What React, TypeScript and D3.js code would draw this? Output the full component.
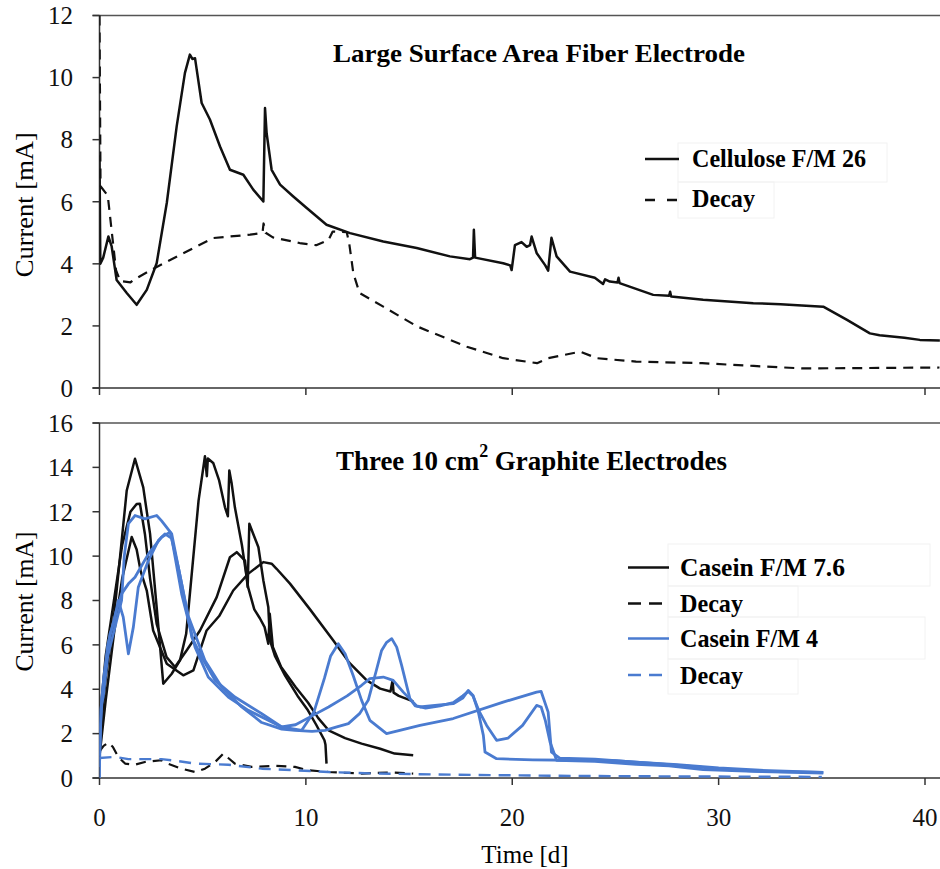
import React from "react";
import * as d3 from "d3";

type Pt = [number, number];

// ---------- Top panel: Large Surface Area Fiber Electrode ----------
const topTicksY = [0, 2, 4, 6, 8, 10, 12];
const xTicks = [0, 10, 20, 30, 40];
const bottomTicksY = [0, 2, 4, 6, 8, 10, 12, 14, 16];

const cellulose: Pt[] = [
  [0, 7.5], [0.04, 4.0], [0.18, 4.2], [0.43, 4.88], [0.59, 4.56], [0.83, 3.48], [1.32, 3.06], [1.8, 2.68],
  [2.29, 3.16], [2.77, 4.02], [3.26, 5.96], [3.74, 8.43], [4.14, 10.15], [4.38, 10.74], [4.5, 10.6],
  [4.63, 10.62], [4.95, 9.18], [5.35, 8.65], [5.84, 7.78], [6.32, 7.03], [6.97, 6.87], [7.45, 6.39],
  [7.94, 6.01], [8.02, 9.02], [8.1, 8.2], [8.34, 7.03], [8.75, 6.55], [9.39, 6.17], [10.04, 5.8],
  [11.0, 5.26], [12.14, 4.99], [13.75, 4.72], [15.37, 4.51], [16.98, 4.24], [17.95, 4.15], [18.1, 4.2],
  [18.14, 5.1], [18.2, 4.2], [19.56, 4.02], [19.9, 3.95], [19.97, 3.8], [20.13, 4.6], [20.45, 4.7],
  [20.7, 4.55], [20.86, 4.6], [20.94, 4.88], [21.18, 4.35], [21.6, 3.95], [21.74, 3.78], [21.9, 4.84],
  [22.15, 4.24], [22.8, 3.75], [24.0, 3.55], [24.4, 3.35], [24.5, 3.5], [24.73, 3.43], [25.1, 3.4],
  [25.15, 3.55], [25.2, 3.38], [26.83, 3.0], [27.6, 2.97], [27.65, 3.1], [27.7, 2.95], [29.25, 2.84],
  [31.68, 2.73], [33.0, 2.7], [35.07, 2.62], [36.2, 2.2], [37.33, 1.76], [37.8, 1.7], [39.0, 1.62],
  [39.75, 1.55], [40.72, 1.53],
];

const celluloseDecay: Pt[] = [
  [0, 12], [0.05, 6.5], [0.4, 6.2], [0.6, 5.0], [0.8, 3.8], [1.0, 3.45], [1.5, 3.4], [1.64, 3.48],
  [2.77, 3.9], [4.7, 4.56], [5.5, 4.83], [7.3, 4.94], [7.9, 5.0], [7.95, 5.3], [8.05, 5.0], [8.4, 4.85],
  [9.7, 4.67], [10.5, 4.6], [11.1, 4.77], [11.3, 5.04], [11.98, 5.02], [12.1, 4.66], [12.3, 3.7],
  [12.6, 3.06], [13.75, 2.62], [15.4, 1.98], [17.8, 1.33], [19.56, 0.96], [21.2, 0.8], [21.74, 0.96],
  [23.3, 1.17], [24.1, 0.96], [26.0, 0.85], [29.2, 0.8], [31.7, 0.71], [34.1, 0.63], [40.7, 0.66],
];

// ---------- Bottom panel: Three 10 cm2 Graphite Electrodes ----------
const caseinHighA: Pt[] = [
  [0, 1.5], [0.3, 4.5], [0.67, 7.0], [1.0, 10.0], [1.32, 12.96], [1.72, 14.39], [2.12, 13.1], [2.45, 11.0],
  [2.77, 7.7], [3.09, 4.25], [3.5, 4.7], [3.9, 5.3], [4.2, 6.5], [4.5, 9.5], [4.8, 12.5], [5.11, 14.5],
  [5.2, 13.6], [5.25, 14.4], [5.51, 14.2], [5.8, 13.4], [6.08, 12.2], [6.22, 11.8], [6.29, 13.86],
  [6.4, 13.3], [6.56, 12.2], [6.9, 10.5], [7.2, 8.6], [7.5, 7.6], [7.77, 7.2], [8.0, 6.8], [8.18, 6.05],
  [8.25, 7.4], [8.4, 5.9], [8.8, 5.0], [9.5, 4.1], [10.1, 3.4], [10.6, 2.7], [11.1, 2.15], [11.9, 1.8],
  [12.7, 1.55], [13.6, 1.32], [14.3, 1.1], [15.2, 1.02],
];

const caseinHighB: Pt[] = [
  [0, 2.5], [0.3, 5.5], [0.7, 8.0], [1.1, 10.5], [1.5, 12.0], [1.8, 12.35], [1.96, 12.36], [2.2, 11.0],
  [2.45, 9.0], [2.77, 6.95], [3.25, 5.45], [3.66, 5.0], [4.22, 5.75], [4.87, 6.65], [5.68, 8.15],
  [6.32, 9.95], [6.65, 10.18], [7.05, 9.8], [7.18, 8.6], [7.26, 11.46], [7.45, 11.0], [7.7, 10.4],
  [7.94, 8.9], [8.18, 7.7], [8.26, 6.2], [8.5, 5.5], [9.0, 4.6], [9.6, 3.7], [10.1, 3.05], [10.5, 2.4],
  [10.9, 1.7], [10.95, 1.5], [11.0, 0.65],
];

const caseinHighC: Pt[] = [
  [0, 1.0], [0.3, 3.5], [0.7, 6.5], [1.1, 9.0], [1.56, 10.86], [1.8, 10.3], [2.0, 9.3], [2.29, 8.45],
  [2.6, 6.65], [3.26, 5.15], [4.06, 4.63], [4.55, 4.85], [5.19, 6.65], [5.8, 7.3], [6.48, 8.45],
  [7.2, 9.2], [7.94, 9.73], [8.34, 9.66], [8.58, 9.43], [9.23, 8.76], [10.2, 7.6], [11.33, 6.2],
  [12.1, 5.2], [12.95, 4.4], [13.6, 4.03], [14.1, 3.9], [14.2, 4.4], [14.25, 3.85], [14.5, 3.7], [15.2, 3.45],
];

const caseinHighDecay: Pt[] = [
  [0, 1.2], [0.2, 1.45], [0.43, 1.6], [0.65, 1.4], [0.91, 0.95], [1.24, 0.65], [1.72, 0.6], [2.2, 0.72],
  [3.0, 0.8], [3.3, 0.65], [3.98, 0.42], [4.63, 0.27], [5.11, 0.42], [5.6, 0.72], [6.0, 1.1], [6.24, 0.9],
  [6.56, 0.65], [7.37, 0.5], [8.5, 0.55], [9.47, 0.5], [10.1, 0.35], [11.09, 0.27], [12.7, 0.2],
  [14.07, 0.25], [15.2, 0.2],
];

const caseinLowA: Pt[] = [
  [0, 0], [0.02, 3.0], [0.18, 3.65], [0.4, 5.5], [0.75, 6.8], [1.07, 8.0], [1.2, 10.0], [1.4, 11.46],
  [1.72, 11.83], [2.2, 11.68], [2.77, 11.83], [3.0, 11.6], [3.5, 11.0], [3.98, 8.75], [4.47, 6.35],
  [4.95, 5.45], [5.6, 4.4], [6.56, 3.65], [7.86, 2.9], [8.83, 2.3], [9.5, 2.4], [10.3, 2.8], [11.1, 3.2],
  [12.0, 3.7], [12.7, 4.18], [13.1, 4.48], [13.75, 4.55], [14.23, 4.4], [14.72, 3.87], [15.37, 3.25],
  [15.8, 3.15], [16.5, 3.25], [17.14, 3.4], [17.6, 3.7], [17.87, 3.9], [18.1, 3.7], [18.4, 3.0],
  [18.76, 2.37], [19.24, 1.7], [19.8, 1.8], [20.5, 2.37], [21.18, 3.27], [21.4, 3.2], [21.6, 2.6],
  [21.83, 1.62], [22.15, 0.8], [24.0, 0.75], [26.0, 0.62], [27.6, 0.55], [29.25, 0.38], [31.7, 0.3],
  [35.07, 0.22],
];

const caseinLowB: Pt[] = [
  [0, 0.5], [0.05, 2.5], [0.2, 4.5], [0.51, 6.5], [0.7, 7.0], [0.91, 8.0], [1.15, 7.25], [1.4, 5.6],
  [1.64, 6.8], [1.88, 8.6], [2.37, 9.8], [2.85, 10.7], [3.17, 11.0], [3.5, 10.8], [3.98, 8.3], [4.63, 5.9],
  [5.27, 4.55], [6.24, 3.65], [7.21, 3.05], [8.83, 2.3], [9.8, 2.15], [10.4, 3.0], [10.9, 4.5], [11.2, 5.5],
  [11.57, 6.05], [11.9, 5.6], [12.3, 4.6], [12.7, 3.5], [13.1, 2.6], [13.91, 2.0], [15.53, 2.37],
  [17.14, 2.68], [19.56, 3.42], [21.18, 3.87], [21.4, 3.9], [21.74, 2.97], [21.9, 1.17], [22.3, 0.9],
  [24.0, 0.85], [26.0, 0.72], [28.0, 0.6], [30.0, 0.45], [32.0, 0.35], [35.07, 0.25],
];

const caseinLowC: Pt[] = [
  [0, 1.0], [0.1, 3.5], [0.4, 6.0], [0.8, 7.5], [1.07, 8.3], [1.4, 8.75], [1.72, 9.05], [2.37, 10.1],
  [3.0, 10.85], [3.42, 11.08], [3.82, 9.5], [4.3, 7.3], [5.11, 5.3], [5.92, 4.1], [6.89, 3.2], [7.86, 2.5],
  [8.83, 2.2], [9.47, 2.15], [10.3, 2.1], [10.93, 2.15], [11.5, 2.3], [12.06, 2.45], [12.6, 2.9],
  [13.02, 3.5], [13.4, 4.8], [13.67, 5.75], [13.9, 6.1], [14.16, 6.28], [14.4, 5.9], [14.64, 5.08],
  [15.04, 3.58], [15.3, 3.25], [15.53, 3.2], [16.5, 3.3], [17.14, 3.35], [17.6, 3.6], [17.87, 3.95],
  [18.1, 3.72], [18.35, 3.0], [18.6, 1.92], [18.68, 1.17], [19.24, 0.87], [21.0, 0.82], [23.0, 0.8],
  [25.0, 0.78], [27.0, 0.65], [29.0, 0.5], [30.0, 0.4], [32.0, 0.3], [35.07, 0.25],
];

const caseinLowDecay: Pt[] = [
  [0, 0.9], [0.75, 0.95], [1.4, 0.85], [3.0, 0.85], [3.66, 0.78], [4.63, 0.65], [6.24, 0.6], [7.86, 0.42],
  [9.47, 0.35], [11.09, 0.27], [13.5, 0.2], [17.0, 0.15], [22.0, 0.1], [28.0, 0.07], [35.0, 0.05],
];

const topTitle = "Large Surface Area Fiber Electrode";
const bottomTitleA = "Three 10 cm";
const bottomTitleSup = "2";
const bottomTitleB = " Graphite Electrodes";
const yLabel = "Current [mA]";
const xLabel = "Time [d]";
const topLegend = ["Cellulose F/M 26", "Decay"];
const bottomLegend = ["Casein F/M 7.6", "Decay", "Casein F/M 4", "Decay"];

const BLUE = "#4a7bd0";
const BLACK = "#111";
const FONT = "Liberation Serif, Times New Roman, serif";

export default function App() {
  const W = 940;
  const H = 869;
  const x = d3.scaleLinear().domain([0, 40]).range([99.5, 925]);
  const yTop = d3.scaleLinear().domain([0, 12]).range([388, 15.5]);
  const yBot = d3.scaleLinear().domain([0, 16]).range([778, 423]);

  const lineTop = d3.line<Pt>().x((d) => x(d[0])).y((d) => yTop(d[1]));
  const lineBot = d3.line<Pt>().x((d) => x(d[0])).y((d) => yBot(d[1]));

  const axisColor = "#333";
  const xLeft = x(0);

  const yTickLabels = (ticks: number[], scale: d3.ScaleLinear<number, number>) =>
    ticks.map((t) => (
      <g key={t}>
        <line x1={xLeft - 7} x2={xLeft} y1={scale(t)} y2={scale(t)} stroke={axisColor} strokeWidth={1.5} />
        <text x={73} y={scale(t)} dy="0.35em" textAnchor="end" fontSize={25} fontFamily={FONT} fill="#111">
          {t}
        </text>
      </g>
    ));

  const xTickMarks = (yBase: number) =>
    xTicks.map((t) => (
      <line key={t} x1={x(t)} x2={x(t)} y1={yBase} y2={yBase + 7} stroke={axisColor} strokeWidth={1.5} />
    ));

  const dash = "10,7";
  const faint = "#f2f2f2";

  return (
    <svg width={W} height={H} style={{ position: "absolute", left: 0, top: 0, background: "#fff" }}>
      <rect x={0} y={0} width={W} height={H} fill="#fff" />
      <defs>
        <clipPath id="clipTop">
          <rect x={xLeft} y={0} width={W - xLeft} height={yTop(0) + 1} />
        </clipPath>
        <clipPath id="clipBot">
          <rect x={xLeft} y={yBot(16)} width={W - xLeft} height={yBot(0) - yBot(16) + 1} />
        </clipPath>
      </defs>

      {/* ---------- TOP PANEL ---------- */}
      <line x1={xLeft - 7} x2={W} y1={yTop(12)} y2={yTop(12)} stroke="#555" strokeWidth={1.5} />
      <line x1={xLeft - 7} x2={W} y1={yTop(0)} y2={yTop(0)} stroke={axisColor} strokeWidth={1.5} />
      <line x1={xLeft} x2={xLeft} y1={yTop(12)} y2={yTop(0)} stroke={axisColor} strokeWidth={1.5} />
      {yTickLabels(topTicksY, yTop)}
      {xTickMarks(yTop(0))}

      <g clipPath="url(#clipTop)" fill="none" strokeLinejoin="round">
        <path d={lineTop(celluloseDecay) || ""} stroke={BLACK} strokeWidth={2.2} strokeDasharray={dash} />
        <path d={lineTop(cellulose) || ""} stroke={BLACK} strokeWidth={2.5} />
      </g>

      <text x={333} y={62} fontSize={26} fontWeight="bold" fontFamily={FONT} textLength={412} lengthAdjust="spacingAndGlyphs">
        {topTitle}
      </text>

      {/* top legend */}
      <g fill="none" stroke={faint} strokeWidth={1}>
        <rect x={678} y={143} width={209} height={39} />
        <rect x={678} y={182} width={96} height={36} />
      </g>
      <line x1={645} x2={679} y1={159} y2={159} stroke={BLACK} strokeWidth={2.5} />
      <text x={692} y={167} fontSize={25} fontWeight="bold" fontFamily={FONT} textLength={174} lengthAdjust="spacingAndGlyphs">
        {topLegend[0]}
      </text>
      <line x1={645} x2={679} y1={200} y2={200} stroke={BLACK} strokeWidth={2.5} strokeDasharray="10,12" />
      <text x={692} y={207} fontSize={25} fontWeight="bold" fontFamily={FONT} textLength={63} lengthAdjust="spacingAndGlyphs">
        {topLegend[1]}
      </text>

      <text
        transform={`translate(33, ${(yTop(0) + yTop(12)) / 2 + 3}) rotate(-90)`}
        textAnchor="middle"
        fontSize={25}
        fontFamily={FONT}
        textLength={145}
        lengthAdjust="spacingAndGlyphs"
      >
        {yLabel}
      </text>

      {/* ---------- BOTTOM PANEL ---------- */}
      <line x1={xLeft - 7} x2={W} y1={yBot(16)} y2={yBot(16)} stroke="#555" strokeWidth={1.5} />
      <line x1={xLeft - 7} x2={W} y1={yBot(0)} y2={yBot(0)} stroke={axisColor} strokeWidth={1.5} />
      <line x1={xLeft} x2={xLeft} y1={yBot(16)} y2={yBot(0)} stroke={axisColor} strokeWidth={1.5} />
      {yTickLabels(bottomTicksY, yBot)}
      {xTickMarks(yBot(0))}
      {xTicks.map((t) => (
        <text key={t} x={x(t)} y={826} textAnchor="middle" fontSize={25} fontFamily={FONT} fill="#111">
          {t}
        </text>
      ))}

      <g clipPath="url(#clipBot)" fill="none" strokeLinejoin="round">
        <path d={lineBot(caseinHighDecay) || ""} stroke={BLACK} strokeWidth={2.2} strokeDasharray={dash} />
        <path d={lineBot(caseinLowDecay) || ""} stroke={BLUE} strokeWidth={2.4} strokeDasharray="12,8" />
        <path d={lineBot(caseinHighA) || ""} stroke={BLACK} strokeWidth={2.5} />
        <path d={lineBot(caseinHighB) || ""} stroke={BLACK} strokeWidth={2.5} />
        <path d={lineBot(caseinHighC) || ""} stroke={BLACK} strokeWidth={2.5} />
        <path d={lineBot(caseinLowA) || ""} stroke={BLUE} strokeWidth={2.8} />
        <path d={lineBot(caseinLowB) || ""} stroke={BLUE} strokeWidth={2.8} />
        <path d={lineBot(caseinLowC) || ""} stroke={BLUE} strokeWidth={2.8} />
      </g>

      <text
        x={336}
        y={470}
        fontSize={27}
        fontWeight="bold"
        fontFamily={FONT}
        textLength={391}
        lengthAdjust="spacingAndGlyphs"
        xmlSpace="preserve"
      >
        {bottomTitleA}
        <tspan dy={-13} fontSize={18}>{bottomTitleSup}</tspan>
        <tspan dy={13}>{bottomTitleB}</tspan>
      </text>

      {/* bottom legend */}
      <g fill="none" stroke={faint} strokeWidth={1}>
        <rect x={668} y={544} width={262} height={42} />
        <rect x={668} y={586} width={130} height={31} />
        <rect x={668} y={617} width={257} height={42} />
        <rect x={668} y={659} width={130} height={35} />
      </g>
      {[567.5, 603.5, 638.5, 675].map((ly, i) => {
        const color = i < 2 ? BLACK : BLUE;
        const dashed = i % 2 === 1;
        const widths = [165, 63, 138, 63];
        return (
          <g key={i}>
            <line
              x1={628}
              x2={dashed ? 663 : 669}
              y1={ly}
              y2={ly}
              stroke={color}
              strokeWidth={2.6}
              strokeDasharray={dashed ? "13,8" : undefined}
            />
            <text
              x={680}
              y={ly + 8.5}
              fontSize={25}
              fontWeight="bold"
              fontFamily={FONT}
              textLength={widths[i]}
              lengthAdjust="spacingAndGlyphs"
            >
              {bottomLegend[i]}
            </text>
          </g>
        );
      })}

      <text
        transform={`translate(33, ${(yBot(0) + yBot(16)) / 2 + 1}) rotate(-90)`}
        textAnchor="middle"
        fontSize={25}
        fontFamily={FONT}
        textLength={140}
        lengthAdjust="spacingAndGlyphs"
      >
        {yLabel}
      </text>

      <text x={525} y={863} textAnchor="middle" fontSize={25} fontFamily={FONT}>
        {xLabel}
      </text>
    </svg>
  );
}
